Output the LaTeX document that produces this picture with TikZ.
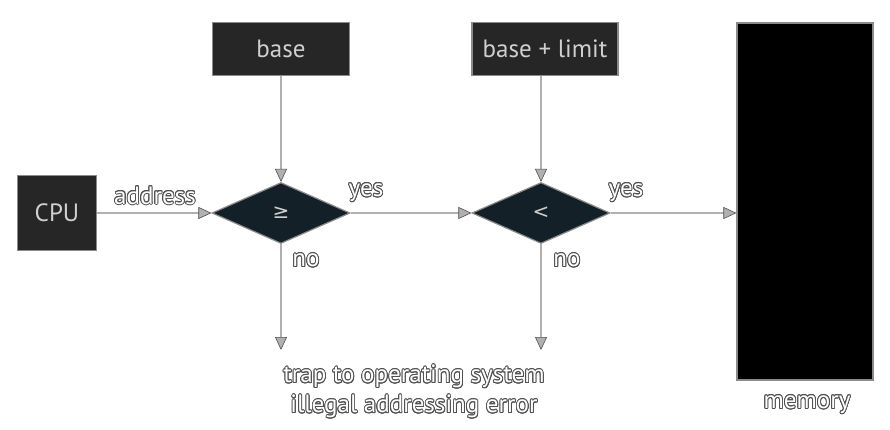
\documentclass[tikz,border=0pt]{standalone}
\usepackage{fontspec}
\setmainfont{PT Sans}
\newfontfamily\symfont{DejaVu Sans}
\usepackage{contour}
\contourlength{0.9pt}
\usetikzlibrary{arrows.meta,shapes.geometric}
\definecolor{boxfill}{HTML}{262626}
\definecolor{diafill}{HTML}{142027}
\definecolor{edge}{HTML}{8A8A8A}
\definecolor{boxtext}{HTML}{CFCFCF}
\definecolor{outl}{HTML}{505050}
\definecolor{shaft}{HTML}{B0B0B0}
\begin{document}
\begin{tikzpicture}[x=1pt,y=-1pt,
  box/.style={draw=edge, line width=1.2pt, fill=boxfill, text=boxtext,
    font=\fontsize{25}{29}\selectfont, inner sep=0pt},
  dia/.style={diamond, draw=edge, line width=1.2pt, fill=diafill, text=boxtext,
    minimum width=138pt, minimum height=61pt, aspect=2.26, inner sep=0pt,
    font=\symfont\fontsize{20}{22}\selectfont},
  lbl/.style={text=white, font=\fontsize{25}{30}\selectfont, inner sep=0pt},
  conn/.style={draw=outl, line width=0.6pt, double=shaft, double distance=1.5pt,
    -{Triangle[length=13pt,width=12pt,fill=shaft,color=outl,line width=0.6pt]}}
]
\useasboundingbox (0,0) rectangle (890,430);
\node[box, minimum width=79pt, minimum height=75pt] (cpu) at (57,213) {CPU};
\node[box, minimum width=137pt, minimum height=53pt] (base) at (281,49) {base};
\node[box, minimum width=146pt, minimum height=53pt] (bl) at (545,49) {base + limit};
\node[dia] (d1) at (281,213) {≥};
\node[dia] (d2) at (541,213) {<};
\node[draw=edge, line width=1.2pt, fill=black, minimum width=136pt, minimum height=357pt, inner sep=0pt] (mem) at (805,201.5) {};
\coordinate (t1) at (281,350);
\coordinate (t2) at (541,350);
\draw[conn] (cpu.east) -- (d1.west);
\draw[conn] (base.south) -- (d1.north);
\draw[conn] (d2.north |- bl.south) -- (d2.north);
\draw[conn] (d1.east) -- (d2.west);
\draw[conn] (d2.east) -- (d2.east -| mem.west);
\draw[conn] (d1.south) -- (t1);
\draw[conn] (d2.south) -- (t2);
\node[lbl] (la) at (155,196) {\contour{outl}{address}};
\node[lbl] (ly1) at (366,193) {\contour{outl}{yes}};
\node[lbl] (ln1) at (306,261) {\contour{outl}{no}};
\node[lbl] (ly2) at (626,193) {\contour{outl}{yes}};
\node[lbl] (ln2) at (567,261) {\contour{outl}{no}};
\node[lbl, align=center] (trap) at (414,392) {\contour{outl}{trap to operating system}\\\contour{outl}{illegal addressing error}};
\node[lbl] (lm) at (807,405) {\contour{outl}{memory}};
\end{tikzpicture}
\end{document}
